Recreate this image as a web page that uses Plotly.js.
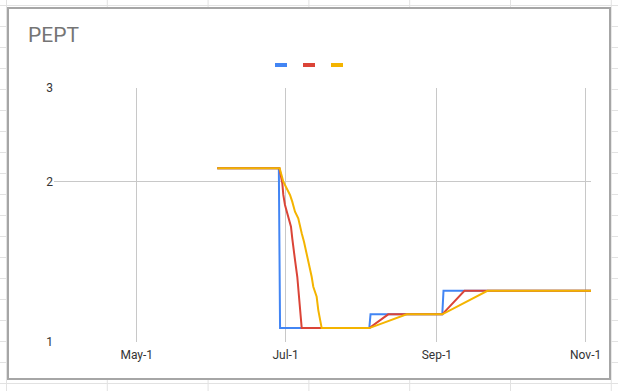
<!DOCTYPE html>
<html>
<head>
<meta charset="utf-8">
<script src="https://cdn.plot.ly/plotly-3.0.1.min.js"></script>
<style>
  html, body { margin:0; padding:0; width:618px; height:391px; overflow:hidden; }
  body {
    background-color:#ffffff;
    background-image:
      linear-gradient(to right, #e2e2e2 1px, transparent 1px),
      linear-gradient(to bottom, #e2e2e2 1px, transparent 1px);
    background-size: 100.8px 21px;
    background-position: 6px 5px;
    position:relative;
  }
  #box { position:absolute; left:7px; top:7px; width:604px; height:373px; box-sizing:border-box;
         border:2px solid #a6a6a6; background:#ffffff; }
  #chart { position:absolute; left:0; top:0; width:618px; height:391px; }
</style>
</head>
<body>
<div id="box"></div>
<div id="chart"></div>
<script>
// ---- data ----
const xTickVals = ['2023-05-01','2023-07-01','2023-09-01','2023-11-01'];
const xTickText = ['May-1','Jul-1','Sep-1','Nov-1'];
const yTickVals = [1, 2, 3];
const yTickText = ['1', '2', '3'];

const blueDates = ['2023-06-03 00:00','2023-06-28 06:00','2023-06-28 18:00','2023-08-04 08:00','2023-08-04 20:00','2023-09-03 06:00','2023-09-03 18:00','2023-11-03 05:00'];
const blueValues = [2.12, 2.12, 1.062, 1.062, 1.127, 1.127, 1.248, 1.248];

const redDates = ['2023-06-03 00:00','2023-06-28 12:00','2023-06-29 16:00','2023-06-30 02:00','2023-06-30 18:30','2023-07-02 03:00','2023-07-03 05:30','2023-07-03 18:00','2023-07-04 04:00','2023-07-04 21:00','2023-07-05 19:30','2023-07-06 05:00','2023-07-06 22:00','2023-07-07 05:00','2023-07-07 15:00','2023-08-04 08:00','2023-08-12 02:00','2023-09-03 06:00','2023-09-12 08:00','2023-11-03 05:00'];
const redValues = [2.12, 2.12, 1.987, 1.889, 1.809, 1.720, 1.647, 1.566, 1.521, 1.426, 1.326, 1.252, 1.165, 1.100, 1.062, 1.062, 1.127, 1.127, 1.248, 1.248];

const yellowDates = ['2023-06-03 00:00','2023-06-28 14:00','2023-06-30 02:00','2023-07-01 11:00','2023-07-02 20:00','2023-07-03 18:00','2023-07-04 21:00','2023-07-06 05:00','2023-07-06 22:00','2023-07-07 15:00','2023-07-08 13:30','2023-07-09 16:00','2023-07-11 00:30','2023-07-11 17:00','2023-07-12 09:00','2023-07-13 18:00','2023-07-14 10:00','2023-07-15 03:00','2023-07-15 19:30','2023-08-04 08:00','2023-08-19 15:30','2023-09-03 06:00','2023-09-15 22:30','2023-09-21 18:00','2023-11-03 05:00'];
const yellowValues = [2.12, 2.12, 2.000, 1.944, 1.889, 1.835, 1.757, 1.708, 1.647, 1.601, 1.543, 1.468, 1.385, 1.326, 1.270, 1.216, 1.148, 1.108, 1.062, 1.062, 1.127, 1.127, 1.208, 1.248, 1.248];

const seriesColors = ['#4285f4', '#db4437', '#f4b400'];

// ---- layout helpers ----
const W = 618, H = 391;
const M = { l: 54, r: 27, t: 88, b: 49 };
const pw = W - M.l - M.r, ph = H - M.t - M.b;
const px2x = p => (p - M.l) / pw;
const px2y = p => (H - M.b - p) / ph;

const traces = [
  { x: blueDates, y: blueValues },
  { x: redDates, y: redValues },
  { x: yellowDates, y: yellowValues }
].map((s, i) => ({
  type: 'scatter', mode: 'lines', x: s.x, y: s.y, name: '',
  line: { color: seriesColors[i], width: 2 }, hoverinfo: 'skip', showlegend: false
}));

// legend swatches
const legendX = [275, 303, 331];
const shapes = legendX.map((lx, i) => ({
  type: 'rect', xref: 'paper', yref: 'paper',
  x0: px2x(lx), x1: px2x(lx + 12), y0: px2y(67), y1: px2y(63),
  fillcolor: seriesColors[i], line: { width: 0 }
}));

const layout = {
  width: W, height: H,
  margin: M,
  paper_bgcolor: 'rgba(0,0,0,0)',
  plot_bgcolor: 'rgba(0,0,0,0)',
  font: { family: 'Roboto, Arial, sans-serif', size: 12, color: '#333333' },
  title: {
    text: 'PEPT',
    font: { family: 'Roboto, Arial, sans-serif', size: 21, color: '#757575' },
    xref: 'container', yref: 'container',
    x: 28 / W, xanchor: 'left', y: 1 - 35 / H, yanchor: 'middle'
  },
  showlegend: false,
  xaxis: {
    type: 'date',
    range: ['2023-03-28 02:00', '2023-11-03 05:00'],
    tickvals: xTickVals, ticktext: xTickText,
    showgrid: true, gridcolor: '#c8c8c8', gridwidth: 1,
    zeroline: false, showline: false,
    ticks: 'outside', ticklen: 2, tickcolor: 'rgba(0,0,0,0)',
    tickfont: { size: 12, color: '#333333' }
  },
  yaxis: {
    type: 'log',
    range: [0, Math.log10(3)],
    tickvals: yTickVals, ticktext: yTickText,
    showgrid: true, gridcolor: '#c8c8c8', gridwidth: 1,
    zeroline: false, showline: false,
    ticks: '', ticklen: 0,
    tickfont: { size: 12, color: '#333333' }
  },
  shapes: shapes
};

Plotly.newPlot('chart', traces, layout, { staticPlot: true, displayModeBar: false });
</script>
</body>
</html>
